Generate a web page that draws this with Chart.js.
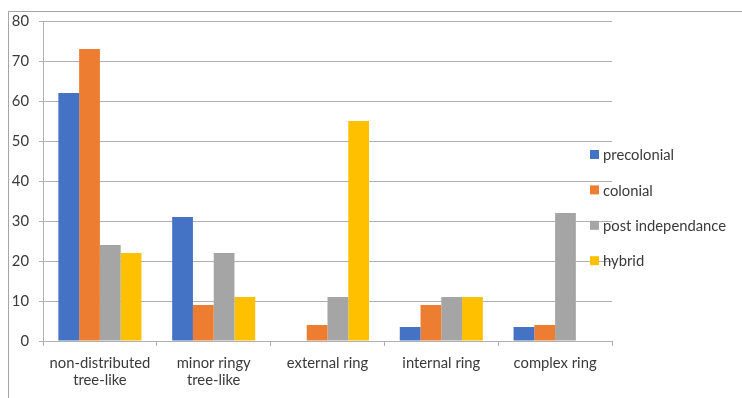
<!DOCTYPE html>
<html>
<head>
<meta charset="utf-8">
<script src="https://cdn.jsdelivr.net/npm/chart.js@4/dist/chart.umd.min.js"></script>
<style>
  html, body { margin: 0; padding: 0; background: #ffffff; }
  #wrap { position: relative; width: 742px; height: 398px; }
  #frame { position: absolute; left: 8px; top: 11px; right: 0; bottom: 0;
           border-top: 1px solid #a6a6a6; border-left: 1px solid #a6a6a6; pointer-events: none; }
  canvas { position: absolute; left: 0; top: 0; }
</style>
</head>
<body>
<div id="wrap">
  <canvas id="chart" width="742" height="398"></canvas>
  <div id="frame"></div>
</div>
<script>
// Settlement layout types per period
const categories = [
  ['non-distributed', 'tree-like'],
  ['minor ringy', 'tree-like'],
  'external ring',
  'internal ring',
  'complex ring'
];
const seriesNames = ['precolonial', 'colonial', 'post independance', 'hybrid'];
const precolonial = [62, 31, 0, 3.5, 3.5];
const colonial = [73, 9, 4, 9, 4];
const postIndependance = [24, 22, 11, 11, 32];
const hybrid = [22, 11, 55, 11, 0];
const yTicks = { min: 0, max: 80, step: 10 };

const colors = ['#4472C4', '#ED7D31', '#A5A5A5', '#FFC000'];
const FONT = 'Lato, "Open Sans", sans-serif';
const TEXT = '#3a3a3a';
const GRID = '#b0b0b0';

// Legend sits inside the plot's right margin, drawn straight onto the canvas
const insideLegend = {
  id: 'insideLegend',
  afterDatasetsDraw(chart, args, opts) {
    const ctx = chart.ctx;
    ctx.save();
    ctx.font = opts.fontSize + 'px ' + FONT;
    ctx.textBaseline = 'middle';
    ctx.textAlign = 'left';
    chart.data.datasets.forEach((ds, i) => {
      const y = opts.top + i * opts.spacing;
      ctx.fillStyle = ds.backgroundColor;
      ctx.fillRect(opts.x, y - opts.box / 2, opts.box, opts.box);
      ctx.fillStyle = TEXT;
      ctx.fillText(ds.label, opts.x + opts.box + 4, y + 1);
    });
    ctx.restore();
  }
};

const seriesValues = [precolonial, colonial, postIndependance, hybrid];

new Chart(document.getElementById('chart'), {
  type: 'bar',
  data: {
    labels: categories,
    datasets: seriesNames.map((name, i) => ({
      label: name,
      data: seriesValues[i],
      backgroundColor: colors[i],
      borderWidth: 0,
      barPercentage: 1.0,
      categoryPercentage: 0.73
    }))
  },
  options: {
    responsive: false,
    animation: false,
    layout: { padding: { left: 0, top: 21, right: 130, bottom: 7 } },
    plugins: {
      legend: { display: false },
      tooltip: { enabled: false },
      insideLegend: { x: 590, top: 154.5, spacing: 35.4, box: 9, fontSize: 14.8 }
    },
    scales: {
      x: {
        grid: { display: true, drawOnChartArea: false, offset: true, tickLength: 5, color: GRID },
        border: { color: GRID },
        ticks: { color: TEXT, font: { family: FONT, size: 14.8 }, padding: 8, maxRotation: 0, autoSkip: false },
        afterFit(scale) { scale.height = 50; }
      },
      y: {
        min: yTicks.min,
        max: yTicks.max,
        ticks: { stepSize: yTicks.step, color: TEXT, font: { family: FONT, size: 14.8 }, padding: 10 },
        grid: { color: GRID, tickLength: 4 },
        border: { color: GRID },
        afterFit(scale) { scale.width = 43; }
      }
    }
  },
  plugins: [insideLegend]
});
</script>
</body>
</html>
